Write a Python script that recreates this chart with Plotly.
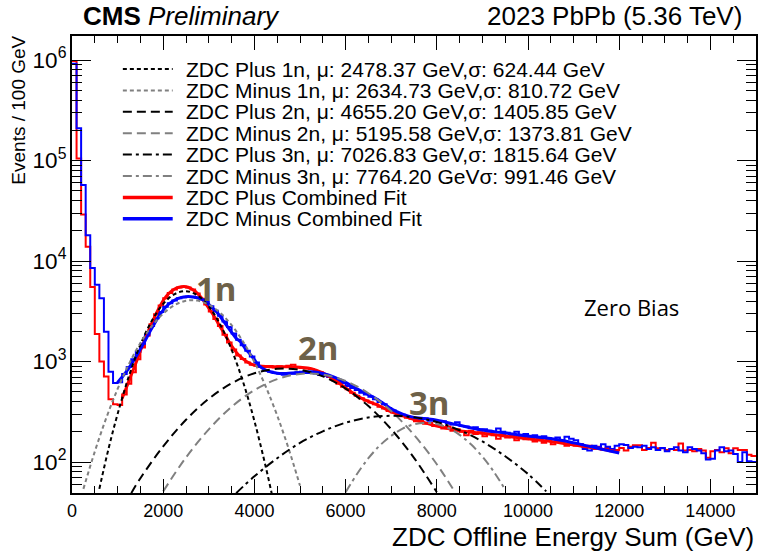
import plotly.graph_objects as go

# ---------------- data ----------------
bin_edges = [i * 100 for i in range(151)]

plus_counts = [
    980000, 105000, 29000, 13900, 5500, 1880, 1000, 710, 420, 375,
    370, 470, 600, 780, 1050, 1380, 1800, 2350, 2950, 3600,
    4250, 4800, 5200, 5450, 5550, 5450, 5200, 4750, 4200, 3700,
    3150, 2650, 2250, 1850, 1550, 1320, 1150, 1060, 980, 930,
    905, 900, 880, 900, 870, 895, 880, 905, 930, 870,
    860, 850, 840, 800, 780, 740, 700, 650, 600, 560,
    530, 490, 455, 430, 410, 390, 375, 355, 340, 322,
    310, 298, 285, 275, 270, 255, 262, 240, 245, 228,
    235, 215, 225, 205, 212, 200, 185, 205, 190, 198,
    180, 192, 185, 170, 188, 175, 182, 165, 178, 168,
    175, 160, 168, 155, 170, 150, 162, 158, 145, 152,
    145, 150, 140, 145, 135, 142, 133, 138, 128, 132,
    138, 130, 142, 147, 147, 132, 138, 155, 137, 137,
    132, 135, 132, 153, 130, 132, 128, 135, 130, 110,
    128, 132, 125, 137, 122, 137, 132, 132, 118, 115,
]

minus_counts = [
    920000, 210000, 57000, 18000, 8500, 5800, 4250, 1980, 790, 610,
    620, 750, 880, 1050, 1250, 1500, 1850, 2250, 2700, 3100,
    3500, 3800, 4050, 4250, 4350, 4420, 4400, 4300, 4150, 3900,
    3550, 3200, 2850, 2500, 2200, 1900, 1650, 1450, 1280, 1120,
    980, 880, 820, 790, 770, 760, 740, 765, 755, 780,
    790, 770, 780, 760, 735, 720, 700, 660, 640, 610,
    570, 545, 520, 490, 470, 445, 420, 395, 375, 345,
    325, 305, 295, 285, 280, 275, 268, 272, 258, 262,
    250, 255, 242, 236, 248, 228, 225, 218, 222, 210,
    212, 205, 198, 215, 200, 195, 190, 200, 185, 190,
    180, 185, 175, 180, 172, 168, 175, 165, 178, 170,
    165, 150, 135, 130, 145, 140, 150, 142, 135, 145,
    150, 148, 138, 142, 140, 145, 135, 140, 132, 138,
    128, 135, 140, 130, 125, 140, 135, 130, 122, 106,
    108, 130, 140, 128, 130, 120, 100, 125, 102, 100,
]

plus_fit_x = [1100, 1200, 1300, 1400, 1500, 1600, 1700, 1800, 1900, 2000,
              2100, 2200, 2300, 2400, 2500, 2600, 2700, 2800, 2900, 3000,
              3100, 3200, 3300, 3400, 3500, 3600, 3700, 3800, 3900, 4000,
              4250, 4500, 4750, 5000, 5250, 5500, 5750, 6000, 6250, 6500,
              6750, 7000, 7250, 7500, 7750, 8000, 8500, 9000, 9500, 10000,
              10500, 11000, 11500, 12000]
plus_fit_y = [430, 560, 740, 960, 1280, 1650, 2150, 2700, 3350, 4050,
              4650, 5100, 5400, 5550, 5550, 5350, 5000, 4500, 3950, 3400,
              2900, 2420, 2030, 1700, 1430, 1240, 1110, 1020, 960, 920,
              890, 888, 885, 875, 850, 770, 660, 545, 455, 400,
              360, 315, 290, 265, 245, 228, 205, 193, 181, 170,
              160, 148, 137, 126]

minus_fit_x = [1000, 1100, 1200, 1300, 1400, 1500, 1600, 1700, 1800, 1900,
               2000, 2100, 2200, 2300, 2400, 2500, 2600, 2700, 2800, 2900,
               3000, 3100, 3200, 3300, 3400, 3500, 3600, 3700, 3800, 3900,
               4000, 4100, 4250, 4500, 4750, 5000, 5250, 5500, 5750, 6000,
               6250, 6500, 6750, 7000, 7250, 7500, 7750, 8000, 8500, 9000,
               9500, 10000, 10500, 11000, 11500, 12000]
minus_fit_y = [620, 700, 800, 940, 1110, 1330, 1600, 1950, 2350, 2800,
               3250, 3650, 3950, 4200, 4350, 4420, 4420, 4350, 4250, 4050,
               3700, 3350, 3000, 2600, 2250, 1950, 1700, 1560, 1340, 1190,
               1040, 910, 820, 765, 763, 774, 790, 760, 700, 620,
               535, 468, 405, 338, 300, 278, 270, 261, 232, 208,
               194, 181, 171, 155, 138, 123]

plus1n_x = [600, 800, 1000, 1250, 1500, 1750, 2000, 2250, 2500, 2750, 3000, 3250, 3500, 3750, 4000, 4250, 4400]
plus1n_y = [54, 135, 300, 720, 1470, 2540, 3740, 4690, 5010, 4560, 3530, 2330, 1310, 630, 256, 89, 44]

minus1n_x = [250, 500, 750, 1000, 1250, 1500, 1750, 2000, 2250, 2500, 2750, 3000, 3250, 3500, 3750, 4000, 4250, 4500, 4750, 5000]
minus1n_y = [54, 127, 273, 533, 948, 1530, 2245, 3000, 3640, 4020, 4036, 3680, 3055, 2305, 1580, 988, 561, 290, 136, 58]

plus2n_x = [1300, 1500, 2000, 2500, 3000, 3500, 4000, 4500, 5000, 5500, 6000, 6500, 7000, 7500, 8000]
plus2n_y = [49, 69, 143, 263, 426, 607, 764, 845, 826, 711, 538, 360, 212, 110, 50]

minus2n_x = [2000, 2500, 3000, 3500, 4000, 4500, 5000, 5500, 6000, 6500, 7000, 7500, 8000, 8400]
minus2n_y = [51, 111, 211, 354, 519, 667, 752, 740, 640, 483, 321, 186, 95, 50]

plus3n_x = [3600, 4000, 4500, 5000, 5500, 6000, 6500, 7000, 7500, 8000, 8500, 9000, 9500, 10000, 10400]
plus3n_y = [49, 72, 109, 155, 202, 246, 277, 288, 279, 250, 207, 160, 114, 76, 51]

minus3n_x = [6000, 6250, 6500, 6750, 7000, 7250, 7500, 7750, 8000, 8250, 8500, 8750, 9000, 9250, 9500]
minus3n_y = [50, 76, 109, 146, 182, 215, 237, 245, 239, 218, 186, 150, 113, 80, 53]

legend_labels = [
    "ZDC Plus 1n, \u03bc: 2478.37 GeV,\u03c3: 624.44 GeV",
    "ZDC Minus 1n, \u03bc: 2634.73 GeV,\u03c3: 810.72 GeV",
    "ZDC Plus 2n, \u03bc: 4655.20 GeV,\u03c3: 1405.85 GeV",
    "ZDC Minus 2n, \u03bc: 5195.58 GeV,\u03c3: 1373.81 GeV",
    "ZDC Plus 3n, \u03bc: 7026.83 GeV,\u03c3: 1815.64 GeV",
    "ZDC Minus 3n, \u03bc: 7764.20 GeV\u03c3: 991.46 GeV",
    "ZDC Plus Combined Fit",
    "ZDC Minus Combined Fit",
]

# ---------------- styling ----------------
W, H = 769, 554
L, R, T, B = 72, 758, 36, 493
FONT = "Liberation Sans"
GRAY = "#808080"
RED = "#ff0000"
BLUE = "#0000ff"
DOT = "4px,3px"
DASH = "9px,5px"
DASHDOT = "9px,4px,3px,4px"

styles = [
    dict(color="black", dash=DOT, width=2),
    dict(color=GRAY, dash=DOT, width=2),
    dict(color="black", dash=DASH, width=2),
    dict(color=GRAY, dash=DASH, width=2),
    dict(color="black", dash=DASHDOT, width=2),
    dict(color=GRAY, dash=DASHDOT, width=2),
    dict(color=RED, dash="solid", width=3),
    dict(color=BLUE, dash="solid", width=3),
]


def px_x(p):
    return (p - L) / (R - L)


def px_y(p):
    return (B - p) / (B - T)


def step(counts):
    xs = list(bin_edges[:-1]) + [bin_edges[-1]]
    ys = list(counts) + [counts[-1]]
    return xs, ys


fig = go.Figure()

hx, hy = step(plus_counts)
fig.add_trace(go.Scatter(x=hx, y=hy, mode="lines", line=dict(color=RED, width=2, shape="hv"), showlegend=False))
hx, hy = step(minus_counts)
fig.add_trace(go.Scatter(x=hx, y=hy, mode="lines", line=dict(color=BLUE, width=2, shape="hv"), showlegend=False))

fig.add_trace(go.Scatter(x=plus_fit_x, y=plus_fit_y, mode="lines",
                         line=dict(color=RED, width=3, shape="spline"), showlegend=False))
fig.add_trace(go.Scatter(x=minus_fit_x, y=minus_fit_y, mode="lines",
                         line=dict(color=BLUE, width=3, shape="spline"), showlegend=False))

comps = [(plus1n_x, plus1n_y), (minus1n_x, minus1n_y), (plus2n_x, plus2n_y),
         (minus2n_x, minus2n_y), (plus3n_x, plus3n_y), (minus3n_x, minus3n_y)]
for (cx, cy), st in zip(comps, styles[:6]):
    fig.add_trace(go.Scatter(x=cx, y=cy, mode="lines",
                             line=dict(color=st["color"], dash=st["dash"], width=st["width"], shape="spline"),
                             showlegend=False))

# manual legend (compact row spacing like the original)
annotations = []
shapes = []
row0, dy = 69, 21.4
for i, (lab, st) in enumerate(zip(legend_labels, styles)):
    yc = row0 + i * dy
    shapes.append(dict(type="line", xref="paper", yref="paper",
                       x0=px_x(123), x1=px_x(173), y0=px_y(yc), y1=px_y(yc),
                       line=dict(color=st["color"], width=st["width"] + (0.5 if i >= 6 else 0),
                                 dash=st["dash"])))
    annotations.append(dict(text=lab, xref="paper", yref="paper", x=px_x(184), y=px_y(yc),
                            xanchor="left", yanchor="middle", showarrow=False,
                            font=dict(family=FONT, size=21, color="black")))

# labels in the plot
label_col = "#6e6148"
for txt, gx, gy in [("1n", 3171, 3.731), ("2n", 5401, 3.144), ("3n", 7829, 2.597)]:
    annotations.append(dict(text="<b>" + txt + "</b>", x=gx, y=gy, xref="x", yref="y",
                            showarrow=False, font=dict(family="Open Sans", size=33, color=label_col)))
annotations.append(dict(text="Zero Bias", x=12268, y=3.542, xref="x", yref="y", showarrow=False,
                        font=dict(family="Open Sans", size=22, color="black")))

# titles
annotations.append(dict(text="<b>CMS</b> <i>Preliminary</i>", xref="paper", yref="paper",
                        x=px_x(81), y=px_y(16), xanchor="left", yanchor="middle", showarrow=False,
                        font=dict(family=FONT, size=26, color="black")))
annotations.append(dict(text="2023 PbPb (5.36 TeV)", xref="paper", yref="paper",
                        x=px_x(746), y=px_y(16), xanchor="right", yanchor="middle", showarrow=False,
                        font=dict(family=FONT, size=26, color="black")))
annotations.append(dict(text="ZDC Offline Energy Sum (GeV)", xref="paper", yref="paper",
                        x=px_x(758), y=px_y(537), xanchor="right", yanchor="middle", showarrow=False,
                        font=dict(family=FONT, size=26, color="black")))
annotations.append(dict(text="Events / 100 GeV", xref="paper", yref="paper", textangle=-90,
                        x=px_x(18), y=px_y(34), xanchor="center", yanchor="top", showarrow=False,
                        font=dict(family=FONT, size=19, color="black")))

fig.update_layout(
    width=W, height=H,
    margin=dict(l=L, r=W - R, t=T, b=H - B),
    paper_bgcolor="white", plot_bgcolor="white",
    font=dict(family=FONT, size=18, color="black"),
    annotations=annotations, shapes=shapes,
    showlegend=False,
)
fig.update_xaxes(range=[0, 15000], dtick=2000, tick0=0, tickformat="d", ticks="inside", ticklen=14, tickwidth=1,
                 tickcolor="black", showline=True, linecolor="black", linewidth=2, mirror="ticks",
                 showgrid=False, zeroline=False, tickfont=dict(family=FONT, size=18),
                 minor=dict(dtick=500, ticks="inside", ticklen=7, tickcolor="black", showgrid=False))
fig.update_yaxes(type="log", range=[1.6915, 6.239], dtick=1, exponentformat="power",
                 ticks="inside", ticklen=19, tickwidth=1, tickcolor="black",
                 showline=True, linecolor="black", linewidth=2, mirror="ticks",
                 showgrid=False, zeroline=False, tickfont=dict(family=FONT, size=18),
                 minor=dict(dtick="D1", ticks="inside", ticklen=10, tickcolor="black", showgrid=False))

fig.write_html("out.html")
